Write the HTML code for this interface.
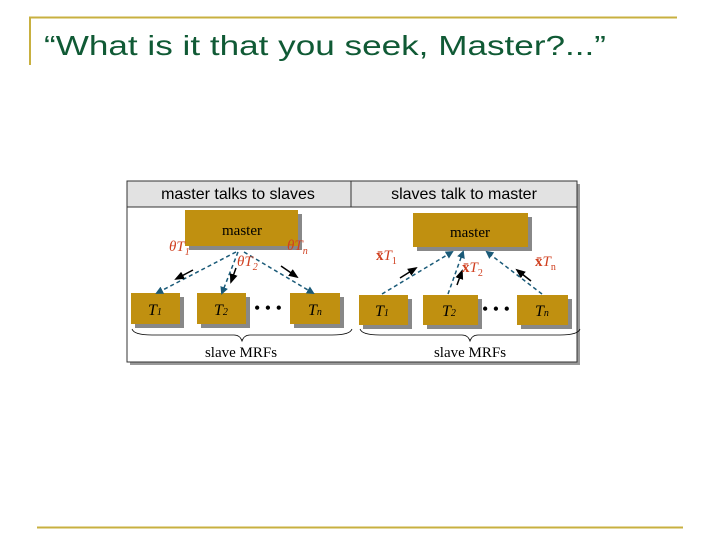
<!DOCTYPE html>
<html><head><meta charset="utf-8"><style>body{margin:0;background:#fff}svg{display:block}</style></head><body>
<svg width="720" height="540" viewBox="0 0 720 540" xmlns="http://www.w3.org/2000/svg" font-family="Liberation Sans, sans-serif">
<defs>
<marker id="a" markerWidth="8" markerHeight="8" refX="6" refY="4" orient="auto" markerUnits="userSpaceOnUse"><path d="M0,0 L8,4 L0,8 z" fill="#1a5a78"/></marker>
<marker id="b" markerWidth="10" markerHeight="10" refX="8" refY="5" orient="auto" markerUnits="userSpaceOnUse"><path d="M0,1 L10,5 L0,9 z" fill="#000"/></marker>
</defs>
<line x1="29" y1="17.5" x2="677" y2="17.5" stroke="#c8b040" stroke-width="2"/>
<line x1="30" y1="17" x2="30" y2="65" stroke="#c8b040" stroke-width="2"/>
<line x1="37" y1="527.5" x2="683" y2="527.5" stroke="#c8b040" stroke-width="2"/>
<text x="44" y="55" font-size="28" fill="#105a35" textLength="562" lengthAdjust="spacingAndGlyphs">“What is it that you seek, Master?...”</text>
<!-- table -->
<rect x="130" y="184" width="450" height="181" fill="#999"/>
<rect x="127" y="181" width="450" height="181" fill="#fff" stroke="#333"/>
<rect x="127" y="181" width="450" height="26" fill="#e2e2e2" stroke="#333"/>
<line x1="351" y1="181" x2="351" y2="207" stroke="#333"/>
<text x="238" y="199" font-size="16" text-anchor="middle">master talks to slaves</text>
<text x="464" y="199" font-size="16" text-anchor="middle">slaves talk to master</text>
<g font-family="Liberation Serif, serif">
<!-- left -->
<g fill="#888"><rect x="189" y="214" width="113" height="36"/><rect x="135" y="297" width="49" height="31"/><rect x="201" y="297" width="49" height="31"/><rect x="294" y="297" width="50" height="31"/></g>
<g fill="#c09010"><rect x="185" y="210" width="113" height="36"/><rect x="131" y="293" width="49" height="31"/><rect x="197" y="293" width="49" height="31"/><rect x="290" y="293" width="50" height="31"/></g>
<text x="242" y="235" font-size="15" text-anchor="middle">master</text>
<g font-style="italic" font-size="16"><text x="148" y="315">T<tspan font-size="10">1</tspan></text><text x="214" y="315">T<tspan font-size="10">2</tspan></text><text x="308" y="315">T<tspan font-size="10">n</tspan></text></g>
<text x="254" y="314" font-size="18">• • •</text>
<g stroke="#1a5a78" stroke-width="1.5" stroke-dasharray="4,3" fill="none"><line x1="236" y1="252" x2="157" y2="293" marker-end="url(#a)"/><line x1="238" y1="252" x2="222" y2="293" marker-end="url(#a)"/><line x1="244" y1="252" x2="313" y2="293" marker-end="url(#a)"/></g>
<g stroke="#000" stroke-width="1.5"><line x1="193" y1="270" x2="176" y2="279" marker-end="url(#b)"/><line x1="236" y1="268" x2="231" y2="282" marker-end="url(#b)"/><line x1="281" y1="266" x2="297" y2="277" marker-end="url(#b)"/></g>
<g fill="#d04020" font-style="italic" font-size="15"><text x="169" y="251">θT<tspan font-size="10" dy="4">1</tspan></text><text x="237" y="266">θT<tspan font-size="10" dy="4">2</tspan></text><text x="287" y="250">θT<tspan font-size="10" dy="4">n</tspan></text></g>
<path d="M132,329 q2,6 20,6 h82 q6,0 8,6 q2,-6 8,-6 h82 q18,0 20,-6" fill="none" stroke="#000" stroke-width="0.8"/>
<text x="241" y="357" font-size="15" text-anchor="middle">slave MRFs</text>
<!-- right -->
<g fill="#888"><rect x="417" y="217" width="115" height="34"/><rect x="363" y="299" width="49" height="30"/><rect x="427" y="299" width="55" height="30"/><rect x="521" y="299" width="51" height="30"/></g>
<g fill="#c09010"><rect x="413" y="213" width="115" height="34"/><rect x="359" y="295" width="49" height="30"/><rect x="423" y="295" width="55" height="30"/><rect x="517" y="295" width="51" height="30"/></g>
<text x="470" y="237" font-size="15" text-anchor="middle">master</text>
<g font-style="italic" font-size="16"><text x="375" y="316">T<tspan font-size="10">1</tspan></text><text x="442" y="316">T<tspan font-size="10">2</tspan></text><text x="535" y="316">T<tspan font-size="10">n</tspan></text></g>
<text x="482" y="315" font-size="18">• • •</text>
<g stroke="#1a5a78" stroke-width="1.5" stroke-dasharray="4,3" fill="none"><line x1="382" y1="294" x2="452" y2="252" marker-end="url(#a)"/><line x1="448" y1="294" x2="463" y2="252" marker-end="url(#a)"/><line x1="542" y1="294" x2="487" y2="252" marker-end="url(#a)"/></g>
<g stroke="#000" stroke-width="1.5"><line x1="400" y1="278" x2="416" y2="268" marker-end="url(#b)"/><line x1="457" y1="285" x2="462" y2="271" marker-end="url(#b)"/><line x1="531" y1="281" x2="517" y2="270" marker-end="url(#b)"/></g>
<g fill="#d04020" font-size="15"><text x="376" y="260" font-weight="bold">x̄<tspan font-style="italic" font-weight="normal">T</tspan><tspan font-size="10" dy="4" font-weight="normal">1</tspan></text><text x="462" y="272" font-weight="bold">x̄<tspan font-style="italic" font-weight="normal">T</tspan><tspan font-size="10" dy="4" font-weight="normal">2</tspan></text><text x="535" y="266" font-weight="bold">x̄<tspan font-style="italic" font-weight="normal">T</tspan><tspan font-size="10" dy="4" font-weight="normal">n</tspan></text></g>
<path d="M360,329 q2,6 20,6 h82 q6,0 8,6 q2,-6 8,-6 h82 q18,0 20,-6" fill="none" stroke="#000" stroke-width="0.8"/>
<text x="470" y="357" font-size="15" text-anchor="middle">slave MRFs</text>
</g>
</svg>
</body></html>
